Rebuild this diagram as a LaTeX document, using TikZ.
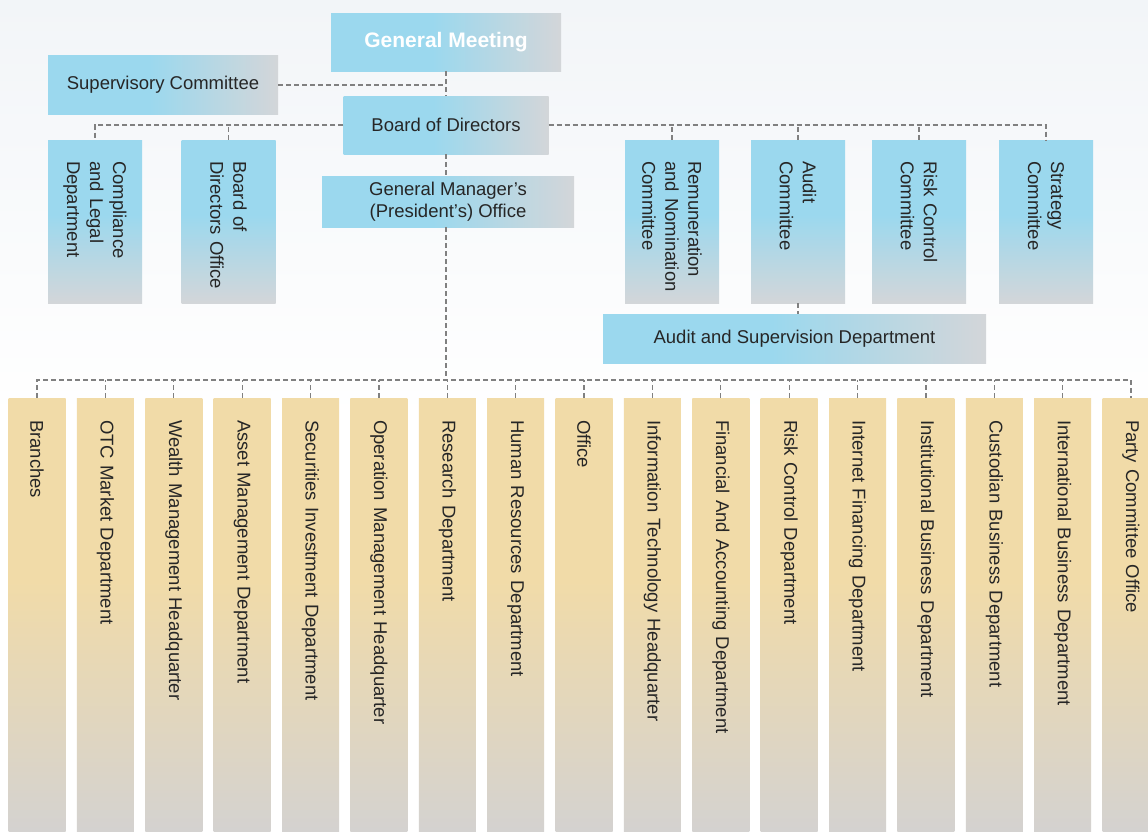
\documentclass[tikz,border=0pt]{standalone}
\usepackage{fontspec}
\setmainfont{Liberation Sans}

\definecolor{skyblue}{HTML}{9BD8EE}
\definecolor{fadegray}{HTML}{D3D6D9}
\definecolor{sand}{HTML}{F1DBA8}
\definecolor{sandgray}{HTML}{D4D2D0}
\definecolor{inkgray}{HTML}{262626}
\definecolor{linkgray}{HTML}{808080}
\definecolor{bgtint}{HTML}{F2F5F8}

\pgfdeclarehorizontalshading{skyfade}{100bp}{color(0bp)=(skyblue); color(47bp)=(skyblue); color(75bp)=(fadegray); color(100bp)=(fadegray)}
\pgfdeclareverticalshading{skydrop}{100bp}{color(0bp)=(fadegray); color(25bp)=(fadegray); color(52bp)=(skyblue); color(100bp)=(skyblue)}
\pgfdeclareverticalshading{sanddrop}{100bp}{color(0bp)=(sandgray); color(25bp)=(sandgray); color(54bp)=(sand); color(100bp)=(sand)}

\begin{document}
\hyphenpenalty=10000 \exhyphenpenalty=10000
\begin{tikzpicture}[
        x=1pt, y=-1pt,
        every node/.style={inner sep=0pt, text=inkgray, font=\fontsize{18.5}{22}\selectfont},
        hbox/.style={shading=skyfade, align=center},
        vbox/.style={shading=skydrop, rotate=-90, minimum width=163pt, minimum height=94pt, text width=121pt, align=left, font=\fontsize{18.5}{23}\selectfont},
        dept/.style={shading=sanddrop, rotate=-90, minimum width=433pt, minimum height=57pt, text width=389pt, align=left},
        link/.style={draw=linkgray, line width=1.2pt, dash pattern=on 5pt off 3pt}]

        \useasboundingbox (0,0) rectangle (1148,831);
        \fill[white] (0,0) rectangle (1148,831);
        \shade[top color=bgtint, bottom color=white] (0,0) rectangle (1148,420);

        % governance
        \node[hbox, minimum width=230pt, minimum height=58pt, text=white, font=\bfseries\fontsize{21}{24}\selectfont] (gm) at (446,42) {General Meeting};
        \node[hbox, minimum width=230pt, minimum height=59pt] (sup) at (163,85) {Supervisory Committee};
        \node[hbox, minimum width=205pt, minimum height=58pt] (bod) at (446,125) {Board of Directors};
        \node[hbox, minimum width=252pt, minimum height=51pt] (gmo) at (448,201.5) {General Manager’s\\(President’s) Office};

        \node[vbox] (cld) at (95,221.5) {Compliance\\and~Legal\\Department};
        \node[vbox] (bdo) at (228.5,221.5) {Board~of\\Directors~Office};
        \node[vbox] (rnc) at (672,221.5) {Remuneration\\and~Nomination\\Committee};
        \node[vbox] (auc) at (798,221.5) {Audit\\Committee};
        \node[vbox] (rcc) at (919,221.5) {Risk~Control\\Committee};
        \node[vbox] (stc) at (1046,221.5) {Strategy\\Committee};

        \node[hbox, minimum width=383pt, minimum height=49pt] (asd) at (794.5,338.5) {Audit and Supervision Department};

        % departments
        \node[dept] (br) at (37,614.5) {Branches};
        \node[dept] (otc) at (105.4,614.5) {OTC Market Department};
        \node[dept] (wmh) at (173.8,614.5) {Wealth Management Headquarter};
        \node[dept] (amd) at (242.1,614.5) {Asset Management Department};
        \node[dept] (sid) at (310.5,614.5) {Securities Investment Department};
        \node[dept] (omh) at (378.9,614.5) {Operation Management Headquarter};
        \node[dept] (rsd) at (447.3,614.5) {Research Department};
        \node[dept] (hrd) at (515.6,614.5) {Human Resources Department};
        \node[dept] (ofc) at (584,614.5) {Office};
        \node[dept] (ith) at (652.4,614.5) {Information Technology Headquarter};
        \node[dept] (fad) at (720.8,614.5) {Financial And Accounting Department};
        \node[dept] (rcd) at (789.1,614.5) {Risk Control Department};
        \node[dept] (ifd) at (857.5,614.5) {Internet Financing Department};
        \node[dept] (ibd) at (925.9,614.5) {Institutional Business Department};
        \node[dept] (cbd) at (994.3,614.5) {Custodian Business Department};
        \node[dept] (inb) at (1062.6,614.5) {International Business Department};
        \node[dept] (pco) at (1131,614.5) {Party Committee Office};

        % links
        \draw[link] (gm.south) -- (bod.north);
        \draw[link] (sup.east) -- (sup.east -| gm.south);
        \draw[link] (bod.west) -| (cld.west);
        \draw[link] (bdo.west) -- (bdo.west |- bod.west);
        \draw[link] (bod.east) -| (stc.west);
        \draw[link] (rnc.west) -- (rnc.west |- bod.east);
        \draw[link] (auc.west) -- (auc.west |- bod.east);
        \draw[link] (rcc.west) -- (rcc.west |- bod.east);
        \draw[link] (bod.south) -- (bod.south |- gmo.north);
        \draw[link] (auc.east) -- (auc.east |- asd.north);

        \coordinate (bus) at (446,380);
        \draw[link] (bus |- gmo.south) -- (bus);
        \draw[link] (br.west) |- (bus) -| (pco.west);
        \draw[link] (otc.west) -- (otc.west |- bus);
        \draw[link] (wmh.west) -- (wmh.west |- bus);
        \draw[link] (amd.west) -- (amd.west |- bus);
        \draw[link] (sid.west) -- (sid.west |- bus);
        \draw[link] (omh.west) -- (omh.west |- bus);
        \draw[link] (rsd.west) -- (rsd.west |- bus);
        \draw[link] (hrd.west) -- (hrd.west |- bus);
        \draw[link] (ofc.west) -- (ofc.west |- bus);
        \draw[link] (ith.west) -- (ith.west |- bus);
        \draw[link] (fad.west) -- (fad.west |- bus);
        \draw[link] (rcd.west) -- (rcd.west |- bus);
        \draw[link] (ifd.west) -- (ifd.west |- bus);
        \draw[link] (ibd.west) -- (ibd.west |- bus);
        \draw[link] (cbd.west) -- (cbd.west |- bus);
        \draw[link] (inb.west) -- (inb.west |- bus);

\end{tikzpicture}
\end{document}
